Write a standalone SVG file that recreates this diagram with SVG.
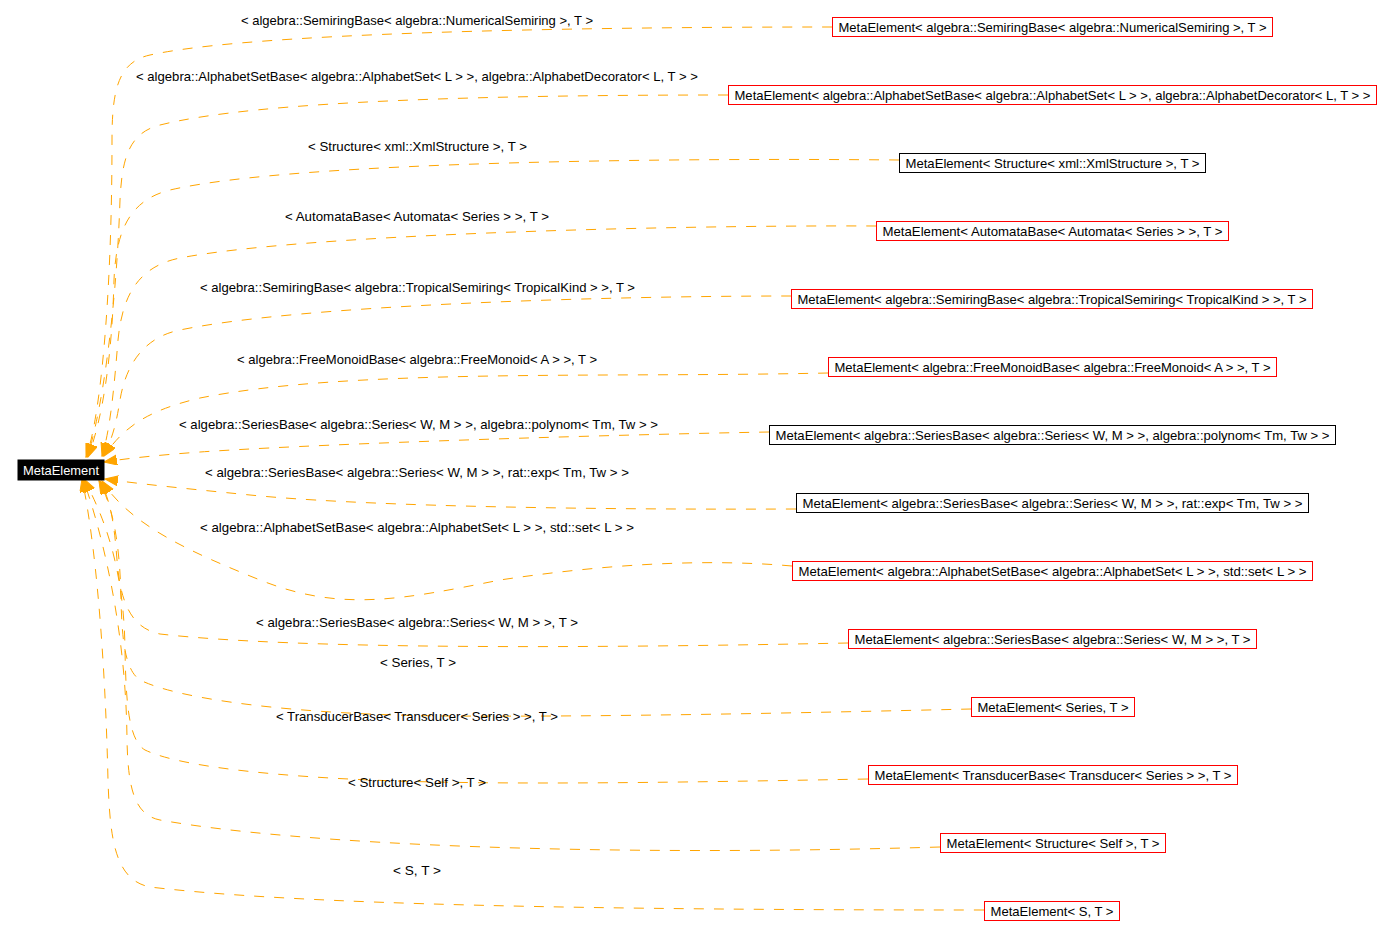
<svg xmlns="http://www.w3.org/2000/svg" width="1393" height="940" viewBox="0 0 1393 940">
<style>
text{font-family:"Liberation Sans",Arial,sans-serif;font-size:13px;fill:#000}
.lbl{text-anchor:middle}
.nt{text-anchor:middle}
.rb{fill:#fff;stroke:#ff0000;stroke-width:1}
.bb{fill:#fff;stroke:#000;stroke-width:1}
.e{fill:none;stroke:#ffa500;stroke-width:1;stroke-dasharray:10,10;marker-end:url(#ah)}
</style>
<defs>
<marker id="ah" markerUnits="userSpaceOnUse" markerWidth="14" markerHeight="11" refX="13" refY="5" orient="auto">
<path d="M0,0 L13,5 L0,10 z" fill="#ffa500" stroke="#ffa500"/>
</marker>
</defs>
<rect width="1393" height="940" fill="#fff"/>
<g id="connectors">
<path class="e" d="M832,27 C 560,27 250,33 150,55 C 118,62 112,90 112,140 C 112,300 100,420 86,457"/>
<path class="e" d="M728,95 C 500,95 260,100 160,125 C 128,133 122,160 120,200 C 116,320 100,420 87,457"/>
<path class="e" d="M899,160 C 700,158 300,160 170,190 C 130,200 116,230 114,280 C 112,360 102,420 88,457"/>
<path class="e" d="M876,226 C 650,225 300,235 180,258 C 135,267 122,300 118,340 C 114,390 110,430 102,456"/>
<path class="e" d="M791,296 C 600,296 300,305 180,330 C 140,338 125,370 120,400 C 116,425 112,440 103,456"/>
<path class="e" d="M828,373 C 600,378 350,368 200,398 C 150,410 125,425 104,456"/>
<path class="e" d="M769,432 C 550,436 300,445 200,452 C 160,455 130,458 104,462"/>
<path class="e" d="M796,509 C 550,510 350,505 250,495 C 180,488 140,484 105,479"/>
<path class="e" d="M792,566 C 700,558 600,565 500,580 C 400,600 340,612 260,580 C 190,552 130,525 102,481"/>
<path class="e" d="M848,643 C 600,648 300,650 160,634 C 130,628 120,600 117,560 C 114,520 110,500 100,481"/>
<path class="e" d="M971,709 C 800,713 600,717 450,716 C 300,715 180,700 140,680 C 125,670 122,640 121,600 C 120,540 112,505 99,481"/>
<path class="e" d="M868,779 C 600,784 450,785 330,778 C 230,772 170,762 145,750 C 128,740 126,700 125,650 C 124,560 100,510 84,479"/>
<path class="e" d="M940,847 C 600,857 300,845 160,820 C 135,815 128,790 127,740 C 126,620 98,520 83,479"/>
<path class="e" d="M984,910 C 600,910 300,905 150,887 C 115,880 110,840 108,780 C 105,650 95,540 82,479"/>
<text class="lbl" x="417" y="24.5" textLength="352" lengthAdjust="spacingAndGlyphs">&lt; algebra::SemiringBase&lt; algebra::NumericalSemiring &gt;, T &gt;</text>
<text class="lbl" x="417" y="80.5" textLength="562" lengthAdjust="spacingAndGlyphs">&lt; algebra::AlphabetSetBase&lt; algebra::AlphabetSet&lt; L &gt; &gt;, algebra::AlphabetDecorator&lt; L, T &gt; &gt;</text>
<text class="lbl" x="417.5" y="150.5" textLength="219" lengthAdjust="spacingAndGlyphs">&lt; Structure&lt; xml::XmlStructure &gt;, T &gt;</text>
<text class="lbl" x="417" y="220.5" textLength="264" lengthAdjust="spacingAndGlyphs">&lt; AutomataBase&lt; Automata&lt; Series &gt; &gt;, T &gt;</text>
<text class="lbl" x="417.5" y="291.5" textLength="435" lengthAdjust="spacingAndGlyphs">&lt; algebra::SemiringBase&lt; algebra::TropicalSemiring&lt; TropicalKind &gt; &gt;, T &gt;</text>
<text class="lbl" x="417" y="363.5" textLength="360" lengthAdjust="spacingAndGlyphs">&lt; algebra::FreeMonoidBase&lt; algebra::FreeMonoid&lt; A &gt; &gt;, T &gt;</text>
<text class="lbl" x="418.5" y="428.5" textLength="479" lengthAdjust="spacingAndGlyphs">&lt; algebra::SeriesBase&lt; algebra::Series&lt; W, M &gt; &gt;, algebra::polynom&lt; Tm, Tw &gt; &gt;</text>
<text class="lbl" x="417" y="476.5" textLength="424" lengthAdjust="spacingAndGlyphs">&lt; algebra::SeriesBase&lt; algebra::Series&lt; W, M &gt; &gt;, rat::exp&lt; Tm, Tw &gt; &gt;</text>
<text class="lbl" x="417" y="531.5" textLength="434" lengthAdjust="spacingAndGlyphs">&lt; algebra::AlphabetSetBase&lt; algebra::AlphabetSet&lt; L &gt; &gt;, std::set&lt; L &gt; &gt;</text>
<text class="lbl" x="417" y="626.5" textLength="322" lengthAdjust="spacingAndGlyphs">&lt; algebra::SeriesBase&lt; algebra::Series&lt; W, M &gt; &gt;, T &gt;</text>
<text class="lbl" x="418" y="666.5" textLength="76" lengthAdjust="spacingAndGlyphs">&lt; Series, T &gt;</text>
<text class="lbl" x="417" y="720.5" textLength="282" lengthAdjust="spacingAndGlyphs">&lt; TransducerBase&lt; Transducer&lt; Series &gt; &gt;, T &gt;</text>
<text class="lbl" x="417" y="786.5" textLength="138" lengthAdjust="spacingAndGlyphs">&lt; Structure&lt; Self &gt;, T &gt;</text>
<text class="lbl" x="417" y="874.5" textLength="48" lengthAdjust="spacingAndGlyphs">&lt; S, T &gt;</text>
</g>
<g id="MetaElement">
<rect x="18" y="460" width="86" height="20" fill="#000" stroke="#000"/>
<text class="nt" x="61" y="474.5" style="fill:#fff" textLength="76" lengthAdjust="spacingAndGlyphs">MetaElement</text>
</g>
<g id="n1"><rect class="rb" x="832.5" y="17.5" width="440" height="19"/><text class="nt" x="1052.5" y="31.5" textLength="428" lengthAdjust="spacingAndGlyphs">MetaElement&lt; algebra::SemiringBase&lt; algebra::NumericalSemiring &gt;, T &gt;</text></g>
<g id="n2"><rect class="rb" x="728.5" y="85.5" width="648" height="19"/><text class="nt" x="1052.5" y="99.5" textLength="636" lengthAdjust="spacingAndGlyphs">MetaElement&lt; algebra::AlphabetSetBase&lt; algebra::AlphabetSet&lt; L &gt; &gt;, algebra::AlphabetDecorator&lt; L, T &gt; &gt;</text></g>
<g id="n3"><rect class="bb" x="899.5" y="153.5" width="306" height="19"/><text class="nt" x="1052.5" y="167.5" textLength="294" lengthAdjust="spacingAndGlyphs">MetaElement&lt; Structure&lt; xml::XmlStructure &gt;, T &gt;</text></g>
<g id="n4"><rect class="rb" x="876.5" y="221.5" width="352" height="19"/><text class="nt" x="1052.5" y="235.5" textLength="340" lengthAdjust="spacingAndGlyphs">MetaElement&lt; AutomataBase&lt; Automata&lt; Series &gt; &gt;, T &gt;</text></g>
<g id="n5"><rect class="rb" x="791.5" y="289.5" width="521" height="19"/><text class="nt" x="1052" y="303.5" textLength="509" lengthAdjust="spacingAndGlyphs">MetaElement&lt; algebra::SemiringBase&lt; algebra::TropicalSemiring&lt; TropicalKind &gt; &gt;, T &gt;</text></g>
<g id="n6"><rect class="rb" x="828.5" y="357.5" width="448" height="19"/><text class="nt" x="1052.5" y="371.5" textLength="436" lengthAdjust="spacingAndGlyphs">MetaElement&lt; algebra::FreeMonoidBase&lt; algebra::FreeMonoid&lt; A &gt; &gt;, T &gt;</text></g>
<g id="n7"><rect class="bb" x="769.5" y="425.5" width="566" height="19"/><text class="nt" x="1052.5" y="439.5" textLength="554" lengthAdjust="spacingAndGlyphs">MetaElement&lt; algebra::SeriesBase&lt; algebra::Series&lt; W, M &gt; &gt;, algebra::polynom&lt; Tm, Tw &gt; &gt;</text></g>
<g id="n8"><rect class="bb" x="796.5" y="493.5" width="512" height="19"/><text class="nt" x="1052.5" y="507.5" textLength="500" lengthAdjust="spacingAndGlyphs">MetaElement&lt; algebra::SeriesBase&lt; algebra::Series&lt; W, M &gt; &gt;, rat::exp&lt; Tm, Tw &gt; &gt;</text></g>
<g id="n9"><rect class="rb" x="792.5" y="561.5" width="520" height="19"/><text class="nt" x="1052.5" y="575.5" textLength="508" lengthAdjust="spacingAndGlyphs">MetaElement&lt; algebra::AlphabetSetBase&lt; algebra::AlphabetSet&lt; L &gt; &gt;, std::set&lt; L &gt; &gt;</text></g>
<g id="n10"><rect class="rb" x="848.5" y="629.5" width="408" height="19"/><text class="nt" x="1052.5" y="643.5" textLength="396" lengthAdjust="spacingAndGlyphs">MetaElement&lt; algebra::SeriesBase&lt; algebra::Series&lt; W, M &gt; &gt;, T &gt;</text></g>
<g id="n11"><rect class="rb" x="971.5" y="697.5" width="163" height="19"/><text class="nt" x="1053" y="711.5" textLength="151" lengthAdjust="spacingAndGlyphs">MetaElement&lt; Series, T &gt;</text></g>
<g id="n12"><rect class="rb" x="868.5" y="765.5" width="369" height="19"/><text class="nt" x="1053" y="779.5" textLength="357" lengthAdjust="spacingAndGlyphs">MetaElement&lt; TransducerBase&lt; Transducer&lt; Series &gt; &gt;, T &gt;</text></g>
<g id="n13"><rect class="rb" x="940.5" y="833.5" width="225" height="19"/><text class="nt" x="1053" y="847.5" textLength="213" lengthAdjust="spacingAndGlyphs">MetaElement&lt; Structure&lt; Self &gt;, T &gt;</text></g>
<g id="n14"><rect class="rb" x="984.5" y="901.5" width="135" height="19"/><text class="nt" x="1052" y="915.5" textLength="123" lengthAdjust="spacingAndGlyphs">MetaElement&lt; S, T &gt;</text></g>
</svg>
